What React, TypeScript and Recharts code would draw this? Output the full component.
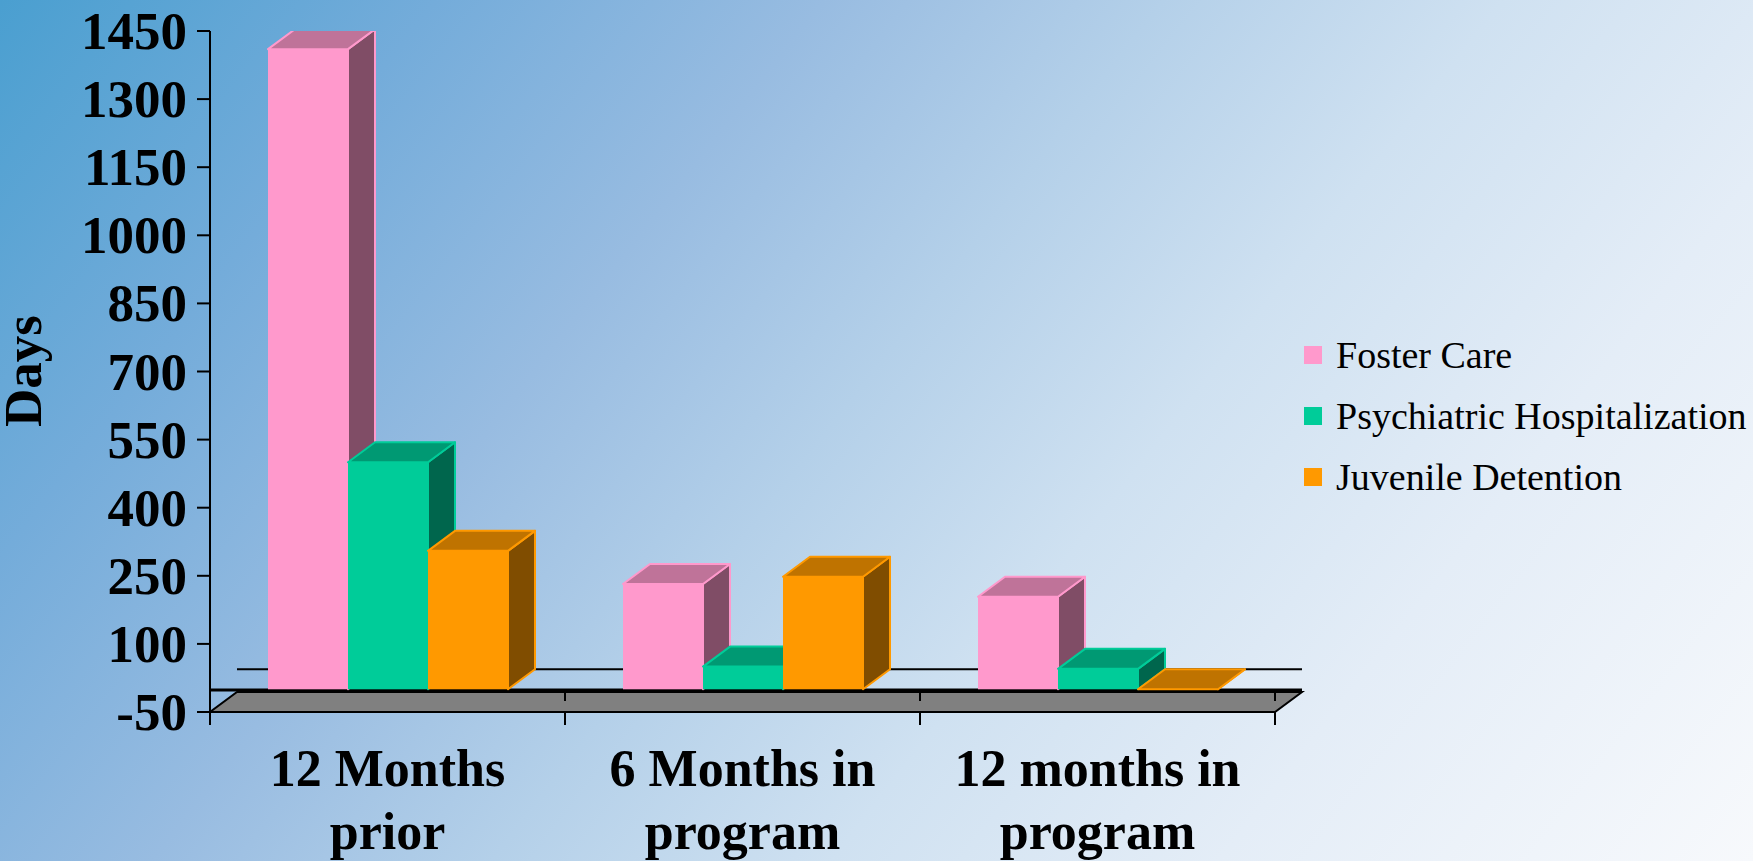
import React from 'react';
import { BarChart, Bar, XAxis, YAxis, CartesianGrid } from 'recharts';

// categories (two lines each) and series values
const categoryLines = [
  ['12 Months', 'prior'],
  ['6 Months in', 'program'],
  ['12 months in', 'program'],
];
const fosterCare = [1410, 232, 204];
const psychiatric = [500, 50, 45];
const juvenile = [305, 248, 0];
const yTicks = [-50, 100, 250, 400, 550, 700, 850, 1000, 1150, 1300, 1450];

const seriesNames = ['Foster Care', 'Psychiatric Hospitalization', 'Juvenile Detention'];
const seriesKeys = ['foster', 'psych', 'juvenile'];
const seriesColors = ['#FF99CC', '#00CC99', '#FF9900'];
const topColors = ['#BF7399', '#009973', '#BF7300'];
const sideColors = ['#804D66', '#00664D', '#804D00'];

const data = categoryLines.map((lines, i) => ({
  name: lines.join(' '),
  foster: fosterCare[i],
  psych: psychiatric[i],
  juvenile: juvenile[i],
}));

const W = 1753;
const H = 861;
const PLOT_BOTTOM = 712;
const DX = 27;
const DY = -20;
const serif = '"Liberation Serif", "Times New Roman", serif';

function makeBar(idx: number) {
  return (props: any) => {
    const { x, y, width, height } = props;
    if (x == null || y == null) return <g />;
    const top = Math.min(y, y + height);
    const bottom = Math.max(y, y + height);
    const right = x + width;
    const c = seriesColors[idx];
    return (
      <g>
        <polygon
          points={`${right},${bottom} ${right + DX},${bottom + DY} ${right + DX},${top + DY} ${right},${top}`}
          fill={sideColors[idx]}
          stroke={c}
          strokeWidth={2}
          strokeLinejoin="round"
        />
        <polygon
          points={`${x},${top} ${x + DX},${top + DY} ${right + DX},${top + DY} ${right},${top}`}
          fill={topColors[idx]}
          stroke={c}
          strokeWidth={2}
          strokeLinejoin="round"
        />
        {bottom - top > 0 && <rect x={x} y={top} width={width} height={bottom - top} fill={c} />}
      </g>
    );
  };
}

// floor at -50 and back baseline at 0, drawn from grid lines (behind bars)
function gridLine(p: any) {
  const { x1, x2, y1, key } = p;
  if (Math.abs(y1 - PLOT_BOTTOM) < 1.5) {
    const n = categoryLines.length;
    const step = (x2 - x1) / n;
    const ticks = Array.from({ length: n + 1 }, (_, i) => x1 + i * step);
    return (
      <g key={key}>
        <polygon
          points={`${x1},${y1} ${x2},${y1} ${x2 + DX},${y1 + DY} ${x1 + DX},${y1 + DY}`}
          fill="#808080"
          stroke="#000"
          strokeWidth={2}
        />
        <line x1={x1} y1={y1 + DY - 2} x2={x2 + DX} y2={y1 + DY - 2} stroke="#000" strokeWidth={3} />
        {ticks.map((tx, i) => (
          <g key={i}>
            <line x1={tx} y1={y1} x2={tx} y2={y1 + 13} stroke="#000" strokeWidth={2} />
            {i > 0 && <line x1={tx} y1={y1 + DY} x2={tx} y2={y1 + DY + 9} stroke="#000" strokeWidth={2} />}
          </g>
        ))}
      </g>
    );
  }
  return (
    <line key={key} x1={x1 + DX} y1={y1 + DY} x2={x2 + DX} y2={y1 + DY} stroke="#000" strokeWidth={2} />
  );
}

function YTick(props: any) {
  const { y, payload } = props;
  return (
    <text x={187} y={y + 18} textAnchor="end" fontFamily={serif} fontWeight="bold" fontSize={53} fill="#000">
      {payload.value}
    </text>
  );
}

function XTick(props: any) {
  const { x, y, index } = props;
  const lines = categoryLines[index] || [];
  return (
    <g>
      {lines.map((l, i) => (
        <text key={i} x={x} y={y + 74 + i * 63} textAnchor="middle" fontFamily={serif} fontWeight="bold" fontSize={52} fill="#000">
          {l}
        </text>
      ))}
    </g>
  );
}

export default function App() {
  return (
    <div
      style={{
        position: 'absolute',
        left: 0,
        top: 0,
        width: W,
        height: H,
        overflow: 'hidden',
        background:
          'linear-gradient(128deg, #4a9fd0 0%, #74acda 18%, #98bce1 34%, #b4d0e9 48%, #cfe1f1 62%, #e4edf7 78%, #f7f9fc 100%)',
      }}
    >
      <BarChart
        width={W}
        height={H}
        data={data}
        margin={{ top: 31, right: 478, left: 10, bottom: 0 }}
        barGap={0}
        barSize={80}
      >
        <CartesianGrid horizontal={gridLine} vertical={false} horizontalValues={[0, -50]} />
        <YAxis
          width={200}
          domain={[-50, 1450]}
          ticks={yTicks}
          interval={0}
          allowDataOverflow
          axisLine={{ stroke: '#000', strokeWidth: 2 }}
          tickLine={{ stroke: '#000', strokeWidth: 2 }}
          tickSize={13}
          tick={<YTick />}
          label={{
            content: () => (
              <text
                transform="translate(41, 371) rotate(-90)"
                textAnchor="middle"
                fontFamily={serif}
                fontWeight="bold"
                fontSize={53}
                fill="#000"
              >
                Days
              </text>
            ),
          }}
        />
        <XAxis dataKey="name" height={149} axisLine={false} tickLine={false} tickSize={0} tickMargin={0} interval={0} tick={<XTick />} />
        {seriesKeys.map((k, i) => (
          <Bar key={k} dataKey={k} name={seriesNames[i]} fill={seriesColors[i]} shape={makeBar(i)} isAnimationActive={false} />
        ))}
      </BarChart>
      <div style={{ position: 'absolute', left: 1304, top: 324, fontFamily: serif, fontSize: 38, color: '#000' }}>
        {seriesNames.map((n, i) => (
          <div key={n} style={{ display: 'flex', alignItems: 'center', height: 61 }}>
            <div style={{ width: 18, height: 18, background: seriesColors[i], marginRight: 14 }} />
            <span style={{ whiteSpace: 'nowrap' }}>{n}</span>
          </div>
        ))}
      </div>
    </div>
  );
}
